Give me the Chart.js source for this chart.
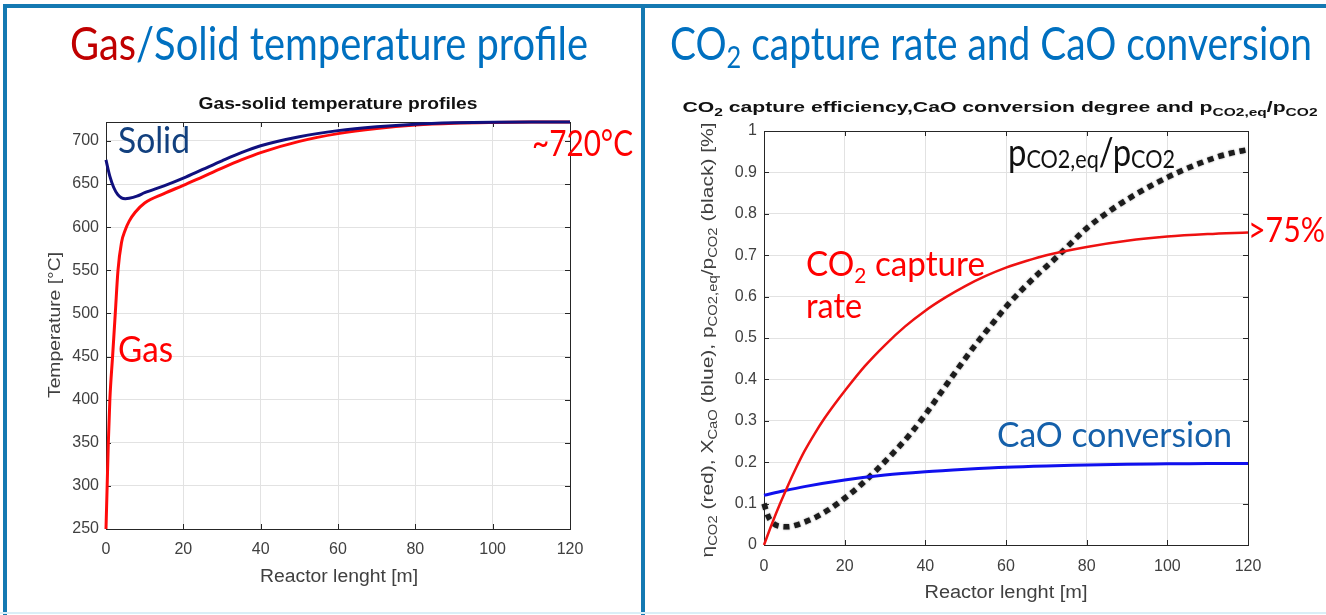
<!DOCTYPE html>
<html>
<head>
<meta charset="utf-8">
<script src="https://cdn.jsdelivr.net/npm/chart.js@4.4.1/dist/chart.umd.min.js"></script>
<style>
  html, body { margin: 0; padding: 0; background: #fff; }
  #wrap { position: relative; width: 1326px; height: 615px; overflow: hidden; background: #fff; }
  #wrap canvas { position: absolute; left: 0; top: 0; }
  .rule { position: absolute; background: #1479b2; }
</style>
</head>
<body>
<div id="wrap">
  <canvas id="tempChart" width="1326" height="615"></canvas>
  <canvas id="captureChart" width="1326" height="615"></canvas>
  <div class="rule" style="left:3px;top:4px;width:4px;height:611px"></div>
  <div class="rule" style="left:3px;top:4px;width:1323px;height:4px"></div>
  <div class="rule" style="left:641px;top:4px;width:4px;height:611px"></div>
  <div class="rule" style="left:0;top:612px;width:1326px;height:2px;background:#d9eff7"></div>
</div>
<script>
// Gas / solid temperature along the reactor
const gasLength   = [0, 0.3, 0.6, 1.0, 1.7, 2.4, 3.1, 4.0, 5.0, 6.0, 7.5, 10, 15, 20, 25, 30, 35, 40, 50, 60, 70, 80, 90, 100, 110, 120];
const gasTemp     = [250, 300, 350, 400, 450, 500, 550, 582, 597, 607, 617, 628, 639, 648.5, 658.5, 668.5, 678, 686.5, 699.5, 708.5, 714.5, 718.5, 720.6, 721.5, 721.9, 722];
const solidLength = [0, 0.5, 1, 2, 3, 4, 5, 6, 8, 10, 15, 20, 25, 30, 35, 40, 50, 60, 70, 80, 90, 100, 110, 120];
const solidTemp   = [678, 668, 659, 646, 638, 634, 633, 633.5, 636, 640, 648, 657, 667, 677, 686.5, 694.5, 705, 712, 716.5, 719.5, 721, 721.7, 722, 722];

// CO2 capture efficiency, CaO conversion and equilibrium pressure ratio
const captureLength = [0, 2, 4, 6, 8, 10, 12.5, 15, 17.5, 20, 25, 30, 35, 40, 45, 50, 55, 60, 65, 70, 80, 90, 100, 110, 120];
const captureRate   = [0, 0.052, 0.1, 0.145, 0.187, 0.226, 0.268, 0.306, 0.34, 0.372, 0.432, 0.483, 0.528, 0.566, 0.598, 0.626, 0.65, 0.67, 0.686, 0.70, 0.72, 0.735, 0.745, 0.751, 0.755];
const caoLength     = [0, 5, 10, 20, 30, 40, 50, 60, 70, 80, 90, 100, 110, 120];
const caoConversion = [0.12, 0.131, 0.141, 0.157, 0.169, 0.177, 0.183, 0.188, 0.191, 0.193, 0.195, 0.196, 0.197, 0.197];
const ratioLength   = [0, 1, 2, 4, 6, 8, 10, 13, 16, 20, 24, 28, 32, 36, 40, 44, 48, 52, 56, 60, 64, 68, 72, 76, 80, 84, 88, 92, 96, 100, 104, 108, 112, 116, 120];
const pressureRatio = [0.10, 0.07, 0.055, 0.045, 0.044, 0.048, 0.055, 0.068, 0.085, 0.113, 0.145, 0.182, 0.222, 0.265, 0.315, 0.37, 0.425, 0.478, 0.527, 0.575, 0.617, 0.655, 0.69, 0.728, 0.765, 0.795, 0.822, 0.846, 0.868, 0.888, 0.906, 0.922, 0.936, 0.947, 0.955];

// axis ranges and tick steps
const lengthRange = [0, 120], lengthStep = 20;
const tempRange = [250, 722], tempStep = 50;
const fracRange = [0, 1], fracStep = 0.1;

const toPoints = (xs, ys) => xs.map((x, i) => ({ x, y: ys[i] }));

const AXIS_FONT = "'Liberation Sans', Arial, sans-serif";
const NOTE_FONT = "Lato, 'Open Sans', sans-serif";

// draws a run of text pieces (used for sub-scripts); optional width squeezes the run horizontally
function drawRich(ctx, parts, o) {
  ctx.save();
  ctx.translate(o.x, o.y);
  if (o.rotate) ctx.rotate(o.rotate);
  ctx.textBaseline = 'alphabetic';
  ctx.textAlign = 'left';
  const weight = o.weight || 'normal';
  const family = o.family || NOTE_FONT;
  let total = 0;
  const widths = parts.map(p => {
    ctx.font = `${weight} ${p.size || o.size}px ${family}`;
    const w = ctx.measureText(p.t).width;
    total += w;
    return w;
  });
  const s = o.width ? o.width / total : 1;
  ctx.scale(s, 1);
  let cx = o.align === 'center' ? -total / 2 : (o.align === 'right' ? -total : 0);
  parts.forEach((p, i) => {
    ctx.font = `${weight} ${p.size || o.size}px ${family}`;
    ctx.fillStyle = p.color || o.color;
    ctx.fillText(p.t, cx, p.dy || 0);
    cx += widths[i];
  });
  ctx.restore();
}

// MATLAB-like axes box with inward tick marks on all four sides
const boxPlugin = {
  id: 'box',
  beforeDatasetsDraw(chart) {
    const { ctx, chartArea: a, scales } = chart;
    ctx.save();
    ctx.strokeStyle = '#262626';
    ctx.lineWidth = 1;
    ctx.strokeRect(Math.round(a.left) + 0.5, Math.round(a.top) + 0.5, Math.round(a.right - a.left), Math.round(a.bottom - a.top));
    ctx.beginPath();
    scales.x.ticks.forEach(t => {
      const px = Math.round(scales.x.getPixelForValue(t.value)) + 0.5;
      ctx.moveTo(px, a.bottom); ctx.lineTo(px, a.bottom - 5);
      ctx.moveTo(px, a.top); ctx.lineTo(px, a.top + 5);
    });
    scales.y.ticks.forEach(t => {
      const py = Math.round(scales.y.getPixelForValue(t.value)) + 0.5;
      ctx.moveTo(a.left, py); ctx.lineTo(a.left + 5, py);
      ctx.moveTo(a.right, py); ctx.lineTo(a.right - 5, py);
    });
    ctx.stroke();
    ctx.restore();
  }
};

// soft grey halo around the thick dotted ratio curve
const dotHalo = {
  id: 'dotHalo',
  beforeDatasetDraw(chart, args) {
    if (args.index !== 2) return;
    const ctx = chart.ctx;
    ctx.save();
    ctx.shadowColor = 'rgba(60,60,60,0.55)';
    ctx.shadowBlur = 2;
  },
  afterDatasetDraw(chart, args) {
    if (args.index !== 2) return;
    chart.ctx.restore();
  }
};

function axesOptions(cfg) {
  return {
    responsive: false,
    animation: false,
    devicePixelRatio: 1,
    layout: { padding: cfg.padding },
    plugins: { legend: { display: false }, tooltip: { enabled: false }, title: { display: false } },
    elements: { point: { radius: 0 }, line: { cubicInterpolationMode: 'monotone' } },
    scales: {
      x: {
        type: 'linear', min: lengthRange[0], max: lengthRange[1],
        ticks: { stepSize: lengthStep, color: '#404040', font: { family: AXIS_FONT, size: 16 }, padding: cfg.xPad, maxRotation: 0, autoSkip: false },
        grid: { color: '#e2e2e2', drawTicks: false },
        border: { display: false },
        afterFit(s) { s.height = cfg.xHeight; }
      },
      y: {
        type: 'linear', min: cfg.yRange[0], max: cfg.yRange[1],
        ticks: { stepSize: cfg.yStep, color: '#404040', font: { family: AXIS_FONT, size: 16 }, padding: 7, autoSkip: false,
                 callback: v => cfg.yFmt(v) },
        grid: { color: '#e2e2e2', drawTicks: false },
        border: { display: false },
        afterBuildTicks(s) { s.ticks = s.ticks.filter(t => Math.abs(t.value / cfg.yStep - Math.round(t.value / cfg.yStep)) < 1e-6); },
        afterFit(s) { s.width = 100; }
      }
    }
  };
}

// ---------- left panel: temperature profiles ----------
const tempNotes = {
  id: 'tempNotes',
  afterDraw(chart) {
    const ctx = chart.ctx;
    drawRich(ctx, [{ t: 'Gas', color: '#c00000' }, { t: '/Solid temperature profile', color: '#0070c0' }],
      { x: 70, y: 60, size: 46, width: 518 });
    drawRich(ctx, [{ t: 'Gas-solid temperature profiles' }],
      { x: 338, y: 109, size: 16, weight: 'bold', family: AXIS_FONT, color: '#111', align: 'center', width: 279 });
    drawRich(ctx, [{ t: 'Temperature [°C]' }],
      { x: 60, y: 325, size: 17, family: AXIS_FONT, color: '#404040', align: 'center', width: 146, rotate: -Math.PI / 2 });
    drawRich(ctx, [{ t: 'Reactor lenght [m]' }],
      { x: 339, y: 582, size: 18, family: AXIS_FONT, color: '#404040', align: 'center', width: 158 });
    drawRich(ctx, [{ t: 'Solid' }], { x: 118, y: 153, size: 37, color: '#12407e', width: 72 });
    drawRich(ctx, [{ t: 'Gas' }], { x: 118, y: 362, size: 37, color: '#ff0000', width: 55 });
    drawRich(ctx, [{ t: '~720°C' }], { x: 532, y: 156, size: 37, color: '#ff0000', width: 101 });
  }
};

new Chart(document.getElementById('tempChart'), {
  type: 'line',
  data: {
    datasets: [
      { data: toPoints(solidLength, solidTemp), borderColor: '#10107e', borderWidth: 3, clip: false },
      { data: toPoints(gasLength, gasTemp), borderColor: '#ff0a0a', borderWidth: 3, clip: false }
    ]
  },
  options: axesOptions({
    padding: { left: 6, top: 122, right: 756, bottom: 0 },
    xHeight: 86, xPad: 11,
    yRange: tempRange, yStep: tempStep,
    yFmt: v => String(v)
  }),
  plugins: [boxPlugin, tempNotes]
});

// ---------- right panel: capture rate and CaO conversion ----------
const captureNotes = {
  id: 'captureNotes',
  afterDraw(chart) {
    const ctx = chart.ctx;
    drawRich(ctx, [{ t: 'CO' }, { t: '2', size: 30, dy: 8 }, { t: ' capture rate and CaO conversion' }],
      { x: 670, y: 60, size: 46, color: '#0070c0', width: 642 });
    drawRich(ctx, [
        { t: 'CO' }, { t: '2', size: 11, dy: 4 }, { t: ' capture efficiency,CaO conversion degree and p' },
        { t: 'CO2,eq', size: 11, dy: 4 }, { t: '/p' }, { t: 'CO2', size: 11, dy: 4 }
      ], { x: 1000, y: 112, size: 15, weight: 'bold', family: AXIS_FONT, color: '#111', align: 'center', width: 635 });
    drawRich(ctx, [
        { t: 'η' }, { t: 'CO2', size: 12, dy: 4 }, { t: ' (red), X' }, { t: 'CaO', size: 12, dy: 4 },
        { t: ' (blue), p' }, { t: 'CO2,eq', size: 12, dy: 4 }, { t: '/p' }, { t: 'CO2', size: 12, dy: 4 },
        { t: ' (black) [%]' }
      ], { x: 713, y: 340, size: 17, family: AXIS_FONT, color: '#404040', align: 'center', width: 435, rotate: -Math.PI / 2 });
    drawRich(ctx, [{ t: 'Reactor lenght [m]' }],
      { x: 1006, y: 598, size: 18, family: AXIS_FONT, color: '#404040', align: 'center', width: 163 });
    drawRich(ctx, [{ t: 'p' }, { t: 'CO2,eq', size: 25, dy: 2 }, { t: '/p' }, { t: 'CO2', size: 25, dy: 2 }],
      { x: 1008, y: 166, size: 38, color: '#111', width: 167 });
    drawRich(ctx, [{ t: 'CO' }, { t: '2', size: 22, dy: 7 }, { t: ' capture' }],
      { x: 806, y: 276, size: 35, color: '#ff0000', width: 179 });
    drawRich(ctx, [{ t: 'rate' }], { x: 806, y: 318, size: 35, color: '#ff0000', width: 56 });
    drawRich(ctx, [{ t: '>75%' }], { x: 1248, y: 242, size: 35, color: '#ff0000', width: 77 });
    drawRich(ctx, [{ t: 'CaO conversion' }], { x: 997, y: 447, size: 35, color: '#1560aa', width: 235 });
  }
};

new Chart(document.getElementById('captureChart'), {
  type: 'line',
  data: {
    datasets: [
      { data: toPoints(captureLength, captureRate), borderColor: '#ee1111', borderWidth: 2.5, clip: false },
      { data: toPoints(caoLength, caoConversion), borderColor: '#1010ee', borderWidth: 3, clip: false },
      { data: toPoints(ratioLength, pressureRatio), borderColor: '#1c1c1c', borderWidth: 5.5, borderDash: [6, 5], borderCapStyle: 'butt', clip: false }
    ]
  },
  options: axesOptions({
    padding: { left: 664, top: 131, right: 78, bottom: 0 },
    xHeight: 70, xPad: 12,
    yRange: fracRange, yStep: fracStep,
    yFmt: v => (Math.round(v * 10) / 10).toString()
  }),
  plugins: [boxPlugin, dotHalo, captureNotes]
});
</script>
</body>
</html>
